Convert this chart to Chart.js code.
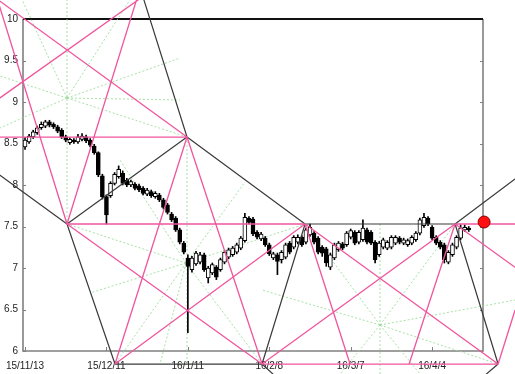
<!DOCTYPE html>
<html><head><meta charset="utf-8">
<script src="https://cdn.jsdelivr.net/npm/chart.js@4"></script>
<style>html,body{margin:0;padding:0;background:#fff}</style>
</head><body>
<canvas id="c" width="515" height="374"></canvas>
<script>
const tickDays = [0, 20, 40, 60, 80, 100];
const tickLabels = ['15/11/13', '15/12/11', '16/1/11', '16/2/8', '16/3/7', '16/4/4'];
const yTicks = [6, 6.5, 7, 7.5, 8, 8.5, 9, 9.5, 10];

const opens = [8.46,8.52,8.58,8.63,8.69,8.71,8.76,8.73,8.70,8.66, 8.58,8.51,8.54,8.52,8.55,8.58,8.54,8.47,8.39,8.11,
  7.86,7.87,8.02,8.10,8.14,8.06,8.00,8.01,7.99,7.96, 7.89,7.92,7.86,7.88,7.82,7.76,7.65,7.60,7.46,7.30,
  7.12,6.98,7.05,7.07,7.16,6.88,6.94,7.01,6.98,7.07, 7.13,7.16,7.19,7.24,7.33,7.60,7.59,7.43,7.35,7.36,
  7.28,7.12,7.16,7.10,7.13,7.30,7.25,7.31,7.37,7.31, 7.40,7.42,7.36,7.25,7.23,7.01,7.12,7.22,7.29,7.28,
  7.37,7.43,7.31,7.34,7.46,7.43,7.31,7.16,7.25,7.24, 7.25,7.30,7.36,7.30,7.28,7.30,7.34,7.42,7.51,7.60,
  7.49,7.37,7.31,7.28,7.07,7.16,7.25,7.36,7.46,7.48];
const closes = [8.54,8.59,8.64,8.69,8.73,8.76,8.72,8.70,8.65,8.58, 8.54,8.55,8.52,8.58,8.59,8.53,8.48,8.39,8.12,7.86,
  7.64,8.02,8.13,8.19,8.02,8.00,8.04,7.96,7.94,7.90, 7.94,7.87,7.90,7.82,7.73,7.67,7.58,7.46,7.31,7.19,
  7.02,7.12,7.18,7.16,6.98,7.00,7.04,6.89,7.10,7.19, 7.22,7.24,7.28,7.36,7.61,7.55,7.41,7.37,7.41,7.28,
  7.17,7.17,7.08,7.19,7.28,7.19,7.37,7.37,7.28,7.46, 7.49,7.31,7.19,7.18,7.06,7.16,7.28,7.30,7.24,7.42,
  7.45,7.30,7.43,7.48,7.31,7.30,7.10,7.30,7.34,7.31, 7.37,7.37,7.31,7.34,7.33,7.37,7.42,7.58,7.61,7.53,
  7.36,7.30,7.25,7.10,7.19,7.28,7.37,7.48,7.49,7.46];
const highs = [8.57,8.61,8.66,8.71,8.76,8.78,8.78,8.75,8.72,8.68, 8.60,8.57,8.56,8.61,8.62,8.60,8.56,8.49,8.40,8.13,
  7.88,8.04,8.15,8.23,8.17,8.08,8.06,8.03,8.01,7.98, 7.96,7.94,7.92,7.90,7.84,7.78,7.67,7.62,7.48,7.32,
  7.16,7.14,7.20,7.19,7.18,7.02,7.06,7.03,7.12,7.21, 7.24,7.26,7.30,7.38,7.66,7.62,7.61,7.45,7.43,7.38,
  7.30,7.19,7.18,7.21,7.30,7.32,7.39,7.40,7.39,7.48, 7.53,7.44,7.38,7.27,7.25,7.18,7.30,7.32,7.31,7.44,
  7.47,7.45,7.45,7.58,7.48,7.45,7.33,7.32,7.36,7.33, 7.39,7.39,7.38,7.36,7.35,7.39,7.44,7.60,7.66,7.62,
  7.51,7.39,7.33,7.30,7.21,7.30,7.39,7.52,7.52,7.50];
const lows = [8.43,8.50,8.56,8.61,8.67,8.69,8.70,8.68,8.63,8.56, 8.52,8.49,8.50,8.50,8.53,8.51,8.46,8.37,8.10,7.83,
  7.53,7.85,8.00,8.08,8.00,7.98,7.98,7.94,7.92,7.88, 7.87,7.85,7.84,7.80,7.71,7.65,7.56,7.44,7.29,7.17,
  6.22,6.95,7.03,7.05,6.96,6.82,6.92,6.86,6.96,7.05, 7.11,7.14,7.17,7.22,7.31,7.53,7.39,7.35,7.33,7.26,
  7.15,7.10,6.92,7.06,7.11,7.17,7.23,7.29,7.26,7.29, 7.38,7.29,7.17,7.14,7.02,6.98,7.10,7.20,7.22,7.26,
  7.35,7.28,7.29,7.32,7.29,7.28,7.06,7.14,7.23,7.22, 7.23,7.28,7.29,7.28,7.26,7.28,7.32,7.40,7.49,7.51,
  7.34,7.28,7.23,7.06,7.05,7.14,7.23,7.34,7.44,7.44];

// Gann construction lines: [day1, price1, day2, price2]
const blackLines = [
  [39.79,8.578, 28.44,10.349],
  [10.31,7.530, 39.79,8.578],
  [39.79,8.578, 68.79,7.530],
  [-8.61,8.205, 10.31,7.530],
  [10.31,7.530, 22.10,5.843],
  [22.10,5.843, 58.22,5.843],
  [68.79,7.530, 58.22,5.843],
  [58.22,5.843, 61.42,5.699],
  [68.79,7.530, 105.64,7.530],
  [105.64,7.530, 116.21,5.843],
  [116.21,5.843, 112.77,5.699],
  [105.64,7.530, 122.84,8.163]
];
const pinkLines = [
  [-7.38,8.578, 39.79,8.578],
  [10.31,7.530, 68.79,7.530],
  [105.64,7.530, 121.61,7.530],
  [58.22,5.843, 116.21,5.843],
  [39.79,8.578, -8.61,10.301],
  [-8.61,8.964, 29.48,10.289],
  [-7.50,10.349, 10.31,7.530],
  [10.31,7.530, 27.76,10.289],
  [39.79,8.578, 22.10,5.843],
  [39.79,8.578, 58.22,5.843],
  [22.10,5.843, 68.79,7.530],
  [10.31,7.530, 58.22,5.843],
  [58.22,5.843, 105.64,7.530],
  [68.79,7.530, 116.21,5.843],
  [68.79,7.530, 79.84,5.843],
  [105.64,7.530, 121.61,6.964],
  [105.64,7.530, 94.34,5.843],
  [116.21,5.843, 120.38,6.494]
];
const greenLines = [
  [10.31,10.289, 10.31,7.530],
  [39.79,8.578, 39.79,5.843],
  [87.21,7.530, 87.21,5.723],
  [10.31,9.048, -6.15,9.313],
  [10.31,9.048, -6.15,8.687],
  [10.31,9.048, 26.53,10.289],
  [10.31,9.048, 38.07,9.530],
  [10.31,9.048, 39.79,8.578],
  [10.31,9.048, -1.24,10.289],
  [10.31,9.048, 38.07,9.024],
  [39.55,7.060, 10.31,7.530],
  [39.55,7.060, 15.96,6.699],
  [39.55,7.060, 22.10,5.843],
  [39.55,7.060, 23.33,8.301],
  [39.55,7.060, 54.05,8.036],
  [39.55,7.060, 68.79,7.530],
  [39.55,7.060, 58.22,5.843],
  [39.55,7.060, 33.16,5.843],
  [87.21,6.313, 68.79,7.530],
  [87.21,6.313, 105.64,7.530],
  [87.21,6.313, 116.21,5.843],
  [87.21,6.313, 58.22,6.735],
  [87.21,6.313, 120.38,6.614],
  [87.21,6.313, 77.39,5.723],
  [87.21,6.313, 97.04,5.723]
];
const markerPoint = [112.77, 7.554];

function segs(list) {
  const out = [];
  list.forEach(s => { out.push({x: s[0], y: s[1]}, {x: s[2], y: s[3]}, {x: s[2], y: null}); });
  return out;
}

const framePlugin = {
  id: 'frame',
  beforeDatasetsDraw(chart) {
    const {ctx, chartArea: a, scales} = chart;
    ctx.save();
    ctx.strokeStyle = '#808080';
    ctx.lineWidth = 1.6;
    ctx.beginPath();
    ctx.moveTo(a.left, a.top); ctx.lineTo(a.left, a.bottom); ctx.lineTo(a.right, a.bottom); ctx.lineTo(a.right, a.top);
    ctx.stroke();
    ctx.lineWidth = 1;
    ctx.beginPath();
    yTicks.forEach(v => {
      const y = Math.round(scales.y.getPixelForValue(v)) + 0.5;
      ctx.moveTo(a.left, y); ctx.lineTo(a.left + 3, y);
      ctx.moveTo(a.right, y); ctx.lineTo(a.right - 3, y);
    });
    tickDays.forEach(v => {
      const x = Math.round(scales.x.getPixelForValue(v)) + 0.5;
      ctx.moveTo(x, a.bottom); ctx.lineTo(x, a.bottom - 4);
    });
    ctx.stroke();
    ctx.strokeStyle = '#111';
    ctx.lineWidth = 2;
    ctx.beginPath();
    ctx.moveTo(a.left, a.top); ctx.lineTo(a.right, a.top);
    ctx.stroke();
    ctx.restore();
  }
};

const font = {family: 'Liberation Sans, Arial, sans-serif', size: 10};

new Chart(document.getElementById('c'), {
  type: 'bar',
  data: {
    datasets: [
      {
        type: 'bar', label: 'body', order: 2, grouped: false,
        data: opens.map((o, i) => ({x: i, y: [o, closes[i]]})),
        barThickness: 4, borderWidth: 1, borderColor: '#000', borderSkipped: false,
        backgroundColor: opens.map((o, i) => closes[i] >= o ? '#ffffff' : '#000000')
      },
      {
        type: 'bar', label: 'wick', order: 3, grouped: false,
        data: lows.map((l, i) => ({x: i, y: [l, highs[i]]})),
        barThickness: 1, borderWidth: 0, backgroundColor: '#000'
      },
      {
        type: 'line', label: 'green', order: 4, data: segs(greenLines),
        borderColor: 'rgba(150,220,150,0.85)', borderWidth: 1, borderDash: [2, 2],
        pointRadius: 0, clip: false, tension: 0, spanGaps: false
      },
      {
        type: 'line', label: 'pink', order: 1, data: segs(pinkLines),
        borderColor: '#f0559e', borderWidth: 1.3,
        pointRadius: 0, clip: false, tension: 0, spanGaps: false
      },
      {
        type: 'line', label: 'black', order: 1, data: segs(blackLines),
        borderColor: '#3a3a3a', borderWidth: 1.2,
        pointRadius: 0, clip: false, tension: 0, spanGaps: false
      },
      {
        type: 'line', label: 'marker', order: 0, showLine: false,
        data: [{x: markerPoint[0], y: markerPoint[1]}],
        pointRadius: 6, pointBackgroundColor: '#ff1010', pointBorderColor: '#8a0000', pointBorderWidth: 1,
        clip: false
      }
    ]
  },
  options: {
    responsive: false,
    animation: false,
    devicePixelRatio: 1,
    layout: {padding: {left: 0, right: 32, top: 19, bottom: 0}},
    plugins: {legend: {display: false}, tooltip: {enabled: false}},
    scales: {
      x: {
        type: 'linear', min: -0.5, max: 112.5, offset: false,
        grid: {display: false, drawTicks: false, offset: false}, border: {display: false},
        afterBuildTicks: s => { s.ticks = tickDays.map(v => ({value: v})); },
        afterFit: s => { s.height = 23; s.paddingLeft = 0; s.paddingRight = 0; },
        ticks: {autoSkip: false, maxRotation: 0, minRotation: 0, padding: 9, font: font, color: '#222',
          callback: (v, i) => tickLabels[i]}
      },
      y: {
        type: 'linear', min: 6, max: 10,
        grid: {display: false, drawTicks: false}, border: {display: false},
        afterBuildTicks: s => { s.ticks = yTicks.map(v => ({value: v})); },
        afterFit: s => { s.width = 23; s.paddingTop = 0; s.paddingBottom = 0; },
        ticks: {padding: 5, font: font, color: '#222', callback: v => String(v)}
      }
    }
  },
  plugins: [framePlugin]
});
</script>
</body></html>
